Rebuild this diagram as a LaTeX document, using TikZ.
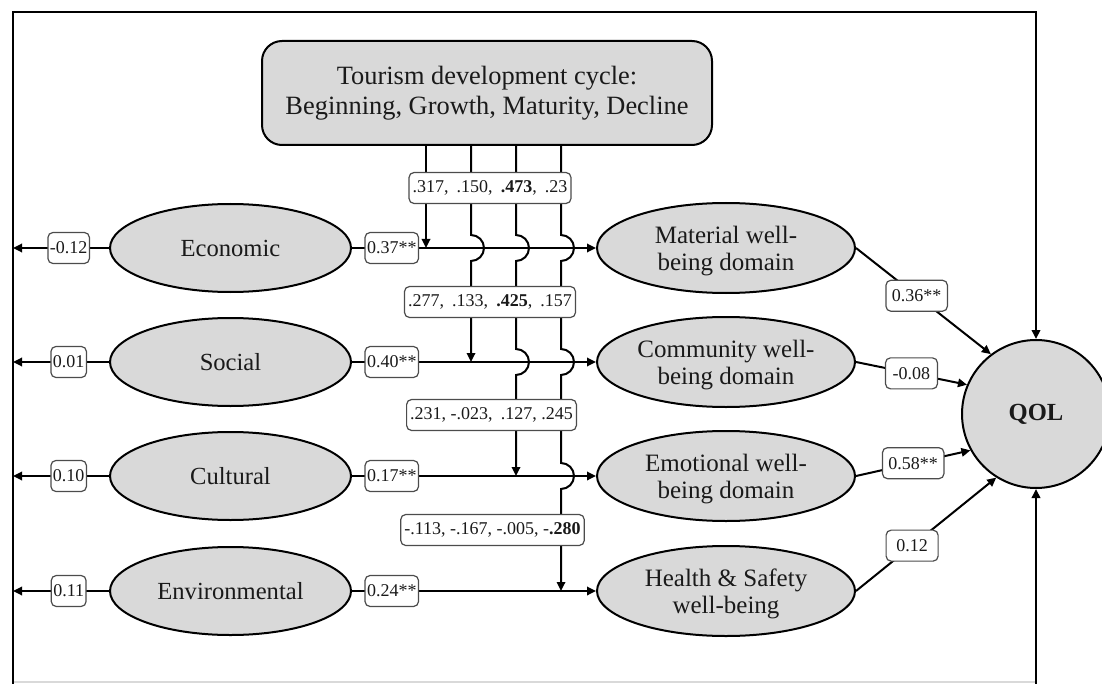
\documentclass[tikz,border=0pt]{standalone}
\usepackage{fontspec}
\setmainfont{Liberation Serif}
\usetikzlibrary{shapes.geometric,arrows.meta}
\definecolor{shade}{HTML}{D9D9D9}
\definecolor{ink}{HTML}{1A1A1A}
\begin{document}
\begin{tikzpicture}[x=0.5pt,y=-0.5pt,
  tip/.style={-{Triangle[length=4.5pt,width=4.2pt]}},
  conn/.style={line width=1pt,draw=black},
  frameline/.style={line width=1.4pt,draw=black},
  construct/.style={ellipse,draw,line width=1pt,fill=shade,inner sep=0pt,
    minimum width=120.5pt,minimum height=44pt,text=ink,
    font=\fontsize{12.3}{14}\selectfont},
  lifedom/.style={ellipse,draw,line width=1pt,fill=shade,inner sep=0pt,
    minimum width=129pt,minimum height=45pt,text=ink,
    font=\fontsize{12.5}{13.5}\selectfont},
  coef/.style={draw=black!70,line width=0.6pt,rounded corners=2.5pt,fill=white,
    minimum height=15.5pt,inner ysep=0pt,text=ink,font=\fontsize{9}{10}\selectfont},
  coefL/.style={coef,inner xsep=1pt},
  coefM/.style={coef,inner xsep=1.8pt},
  coefR/.style={coef,inner xsep=3pt,minimum width=26pt}
]
\useasboundingbox (0,0) rectangle (1102,684);

% moderator box
\node[draw,line width=1pt,fill=shade,rounded corners=10pt,minimum width=225pt,
  minimum height=52pt,align=center,text=ink,font=\fontsize{13.2}{15}\selectfont]
  (top) at (487,93) {Tourism development cycle:\\Beginning, Growth, Maturity, Decline};

% tourism impact constructs
\node[construct] (eco) at (230.5,248) {Economic};
\node[construct] (soc) at (230.5,362) {Social};
\node[construct] (cul) at (230.5,476) {Cultural};
\node[construct] (env) at (230.5,591) {Environmental};

% life domains
\newcommand{\dtext}[2]{\raisebox{-2pt}[\height][\depth]{\begin{tabular}{@{}c@{}}#1\\#2\end{tabular}}}
\node[lifedom] (mat) at (726,248) {\dtext{Material well-}{being domain}};
\node[lifedom] (com) at (726,362) {\dtext{Community well-}{being domain}};
\node[lifedom] (emo) at (726,476) {\dtext{Emotional well-}{being domain}};
\node[lifedom] (hea) at (726,591) {\dtext{Health \& Safety}{well-being}};

% overall quality of life
\node[circle,draw,line width=1pt,fill=shade,inner sep=0pt,minimum size=74pt,
  text=ink,font=\fontsize{12.3}{14}\selectfont\bfseries] (qol) at (1036,414) {QOL};

% outer frame path feeding QOL
\coordinate (fBL) at (13,690);
\coordinate (fTL) at (13,12);
\coordinate (fB) at (1036,690);
\coordinate (l1) at (13,248);
\coordinate (l2) at (13,362);
\coordinate (l3) at (13,476);
\coordinate (l4) at (13,591);
\draw[black!15,line width=0.6pt] (13,682) -- (1036,682);
\draw[frameline,tip] (fBL) -- (fTL) -- (fTL -| qol.north) -- (qol.north);
\draw[frameline,tip] (fB) -- (qol.south);

% constructs to the frame
\draw[conn,tip] (eco.west) -- node[coefL,pos=0.42] (e0) {-0.12} (l1);
\draw[conn,tip] (soc.west) -- node[coefL,pos=0.42] (s0) {0.01} (l2);
\draw[conn,tip] (cul.west) -- node[coefL,pos=0.42] (c0) {0.10} (l3);
\draw[conn,tip] (env.west) -- node[coefL,pos=0.42] (n0) {0.11} (l4);

% constructs to life domains
\draw[conn,tip] (eco.east) -- node[coefL,pos=0.163] (e1) {0.37**} (mat.west);
\draw[conn,tip] (soc.east) -- node[coefL,pos=0.163] (s1) {0.40**} (com.west);
\draw[conn,tip] (cul.east) -- node[coefL,pos=0.163] (c1) {0.17**} (emo.west);
\draw[conn,tip] (env.east) -- node[coefL,pos=0.163] (n1) {0.24**} (hea.west);

% moderating paths, hopping over the rows they cross
\coordinate (t1) at (426,248);
\coordinate (t2) at (471,362);
\coordinate (t3) at (516,476);
\coordinate (t4) at (561,591);
\draw[conn,tip] (top.south -| t1) -- (t1);
\draw[conn,tip] (top.south -| t2) -- (471,235) arc[start angle=90,end angle=-90,radius=6.5pt] -- (t2);
\draw[conn,tip] (top.south -| t3) -- (516,235) arc[start angle=90,end angle=-90,radius=6.5pt]
  -- (516,349) arc[start angle=90,end angle=-90,radius=6.5pt] -- (t3);
\draw[conn,tip] (top.south -| t4) -- (561,235) arc[start angle=90,end angle=-90,radius=6.5pt]
  -- (561,349) arc[start angle=90,end angle=-90,radius=6.5pt]
  -- (561,463) arc[start angle=90,end angle=-90,radius=6.5pt] -- (t4);

\node[coefM] (m1) at (490,188) {.317,\hspace{0.45em}.150,\hspace{0.45em}\textbf{.473},\hspace{0.45em}.23};
\node[coefM] (m2) at (490,302) {.277,\hspace{0.45em}.133,\hspace{0.45em}\textbf{.425},\hspace{0.45em}.157};
\node[coefM] (m3) at (491.5,415) {.231, -.023,\hspace{0.45em}.127, .245};
\node[coefM] (m4) at (492.5,530) {-.113, -.167, -.005, -\textbf{.280}};

% life domains to QOL
\draw[conn,tip] (mat.east) -- node[coefR,pos=0.45] (q1) {0.36**} (qol.127);
\draw[conn,tip] (com.east) -- node[coefR,pos=0.5] (q2) {-0.08} (qol.157.5);
\draw[conn,tip] (emo.east) -- node[coefR,pos=0.5] (q3) {0.58**} (qol.209.7);
\draw[conn,tip] (hea.east) -- node[coefR,pos=0.4] (q4) {0.12} (qol.238.8);
\end{tikzpicture}
\end{document}
